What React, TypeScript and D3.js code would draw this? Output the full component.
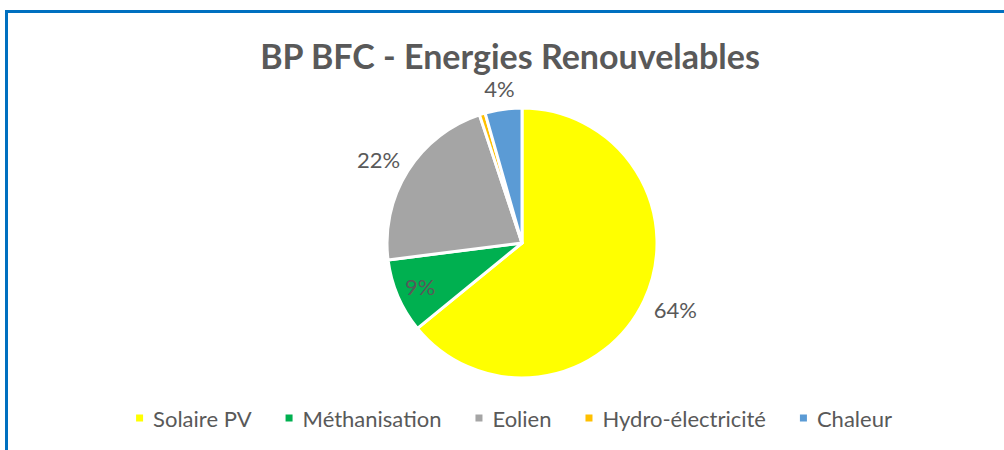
import { useEffect, useRef } from 'react';
import * as d3 from 'd3';

// Chart data
const title = 'BP BFC - Energies Renouvelables';
const categories = ['Solaire PV', 'Méthanisation', 'Eolien', 'Hydro-électricité', 'Chaleur'];
const shares = [64.1, 8.9, 21.9, 0.7, 4.4];
const colours = ['#FFFF00', '#00B050', '#A5A5A5', '#FFC000', '#5B9BD5'];
const insideLabels = ['Méthanisation'];
const hiddenLabels = ['Hydro-électricité'];

const App = () => {
  const svgRef = useRef(null);

  useEffect(() => {
    const width = 1004;
    const height = 450;
    const font = 'Lato, "Open Sans", sans-serif';
    const textColour = '#595959';

    const svg = d3.select(svgRef.current);
    svg.selectAll('*').remove();

    svg.append('rect').attr('width', width).attr('height', height).attr('fill', '#ffffff');

    // blue frame (only top and left edges visible in the crop)
    svg
      .append('rect')
      .attr('x', 6.5)
      .attr('y', 11.5)
      .attr('width', width + 20)
      .attr('height', height + 20)
      .attr('fill', 'none')
      .attr('stroke', '#0070C0')
      .attr('stroke-width', 3);

    svg
      .append('text')
      .attr('x', 510)
      .attr('y', 69)
      .attr('text-anchor', 'middle')
      .style('font-family', font)
      .style('font-weight', 'bold')
      .style('font-size', '34px')
      .style('fill', textColour)
      .text(title);

    const data = categories.map((c, i) => ({ name: c, value: shares[i], colour: colours[i] }));
    const total = d3.sum(shares);

    const cx = 522;
    const cy = 243;
    const radius = 135;

    const pie = d3
      .pie()
      .sort(null)
      .value((d) => d.value)
      .startAngle(0)
      .endAngle(2 * Math.PI);
    const arcs = pie(data);

    const arc = d3.arc().innerRadius(0).outerRadius(radius);

    const pieGroup = svg.append('g').attr('transform', `translate(${cx},${cy})`);

    pieGroup
      .selectAll('path')
      .data(arcs)
      .enter()
      .append('path')
      .attr('d', arc)
      .attr('fill', (d) => d.data.colour)
      .attr('stroke', '#ffffff')
      .attr('stroke-width', 3)
      .attr('stroke-linejoin', 'round');

    // data labels
    const gap = 13;
    const capHalf = 8;
    arcs
      .filter((d) => !hiddenLabels.includes(d.data.name))
      .forEach((d) => {
        const a = (d.startAngle + d.endAngle) / 2;
        const label = pieGroup
          .append('text')
          .attr('text-anchor', 'middle')
          .attr('dominant-baseline', 'central')
          .style('font-family', font)
          .style('font-size', '22px')
          .style('fill', textColour)
          .text(`${Math.round((d.data.value / total) * 100)}%`);
        if (insideLabels.includes(d.data.name)) {
          const r = radius * 0.82;
          label.attr('x', r * Math.sin(a)).attr('y', -r * Math.cos(a));
        } else {
          const w = label.node().getComputedTextLength();
          const r = radius + gap;
          const x = r * Math.sin(a) + (Math.sin(a) * w) / 2;
          const y = -r * Math.cos(a) - Math.cos(a) * capHalf;
          label.attr('x', x).attr('y', y);
        }
      });

    // legend
    const legendY = 418;
    const swatch = 7;
    const textOffset = 17;
    const itemGap = 34;
    const legend = svg.append('g');
    const items = data.map((d) => {
      const g = legend.append('g');
      g.append('rect')
        .attr('x', 0)
        .attr('y', legendY - swatch / 2)
        .attr('width', swatch)
        .attr('height', swatch)
        .attr('fill', d.colour);
      const t = g
        .append('text')
        .attr('x', textOffset)
        .attr('y', legendY)
        .attr('dominant-baseline', 'central')
        .style('font-family', font)
        .style('font-size', '22px')
        .style('fill', textColour)
        .text(d.name);
      return { g, w: textOffset + t.node().getComputedTextLength() };
    });
    const legendWidth = d3.sum(items, (d) => d.w) + itemGap * (items.length - 1);
    let x = 514 - legendWidth / 2;
    items.forEach((it) => {
      it.g.attr('transform', `translate(${x},0)`);
      x += it.w + itemGap;
    });
  }, []);

  return (
    <svg
      ref={svgRef}
      width={1004}
      height={450}
      style={{ position: 'absolute', left: 0, top: 0, display: 'block' }}
    />
  );
};

export default App;
